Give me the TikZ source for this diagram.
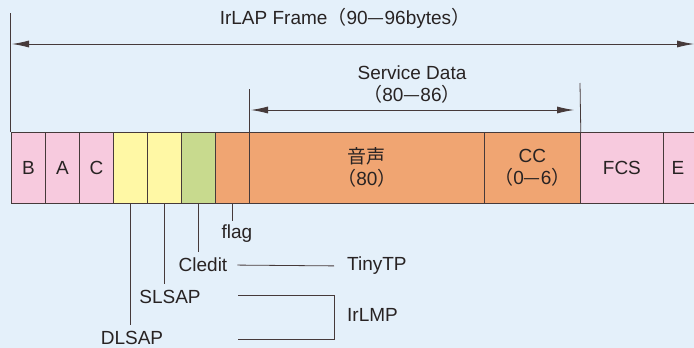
\documentclass[tikz,border=0pt]{standalone}
\usepackage{fontspec}
\setmainfont{Liberation Sans}
\newfontfamily\cjk{Noto Sans CJK JP}
\usetikzlibrary{arrows.meta}
\definecolor{bgc}{RGB}{228,240,250}
\definecolor{pinkc}{RGB}{247,202,222}
\definecolor{yelc}{RGB}{255,248,165}
\definecolor{grnc}{RGB}{200,218,142}
\definecolor{orgc}{RGB}{240,165,114}
\definecolor{linec}{RGB}{70,58,58}
\definecolor{textc}{RGB}{40,35,35}
\begin{document}
\begin{tikzpicture}[x=1pt,y=-1pt,
  txt/.style={font=\fontsize{19}{22}\selectfont, text=textc},
  cell/.style={txt, draw=linec, line width=0.8pt, anchor=north west,
    minimum height=71pt, inner sep=0pt, align=center},
  lbl/.style={txt, inner sep=1pt},
  conn/.style={draw=linec, line width=0.8pt},
  dimarrow/.style={conn, {Latex[length=17pt,width=7pt]}-{Latex[length=17pt,width=7pt]}}]
\fill[bgc] (0,0) rectangle (694,348);
\useasboundingbox (0,0) rectangle (694,348);
% cells
\node[cell, fill=pinkc, minimum width=34pt] (b) at (11,132) {\raisebox{-3pt}{B}};
\node[cell, fill=pinkc, minimum width=34pt] (a) at (45,132) {\raisebox{-3pt}{A}};
\node[cell, fill=pinkc, minimum width=34pt] (c) at (79,132) {\raisebox{-3pt}{C}};
\node[cell, fill=yelc, minimum width=34pt] (y1) at (113,132) {};
\node[cell, fill=yelc, minimum width=34pt] (y2) at (147,132) {};
\node[cell, fill=grnc, minimum width=34pt] (g) at (181,132) {};
\node[cell, fill=orgc, minimum width=34pt] (fl) at (215,132) {};
\node[cell, fill=orgc, minimum width=235pt] (voice) at (249,132) {{\cjk 音声}\\{\cjk （}80{\cjk ）}};
\node[cell, fill=orgc, minimum width=96pt] (cc) at (484,132) {CC\\{\cjk （}0{\cjk —}6{\cjk ）}};
\node[cell, fill=pinkc, minimum width=83pt] (fcs) at (580,132) {FCS};
\node[cell, fill=pinkc, minimum width=45pt] (e) at (663,132) {};
\node[lbl] (etxt) at (678,167.5) {E};
% IrLAP frame dimension
\coordinate (ltop) at (10,13);
\coordinate (aL) at (12,44);
\coordinate (aR) at (694,44);
\draw[conn] (ltop) -- (ltop |- b.north);
\draw[dimarrow] (aL) -- (aR);
\node[lbl] (irlap) at (345,18) {IrLAP Frame{\cjk （}90{\cjk —}96bytes{\cjk ）}};
% Service data dimension
\coordinate (sdtopL) at (249,89);
\coordinate (sdtopR) at (580,83);
\draw[conn] (sdtopL) -- (voice.north west);
\draw[conn] (sdtopR) -- (cc.north east);
\coordinate (sL) at (251,110);
\coordinate (sR) at (574,110);
\draw[dimarrow] (sL) -- (sR);
\node[lbl] (sd) at (412,73) {Service Data};
\node[lbl] (sdn) at (412,94) {{\cjk （}80{\cjk —}86{\cjk ）}};
% field labels below
\node[lbl] (flag) at (237,234) {flag};
\node[lbl] (cledit) at (203,265) {Cledit};
\node[lbl] (slsap) at (170,297) {SLSAP};
\node[lbl] (dlsap) at (132,338) {DLSAP};
\path (fl.south) ++(0,17) coordinate (flend);
\path (g.south) ++(0,48) coordinate (gend);
\path (y2.south) ++(0,80) coordinate (y2end);
\path (y1.south) ++(0,121) coordinate (y1end);
\draw[conn] (fl.south) -- (flend);
\draw[conn] (g.south) -- (gend);
\draw[conn] (y2.south) -- (y2end);
\draw[conn] (y1.south) -- (y1end);
% layers
\node[lbl, anchor=west] (tiny) at (346,266) {TinyTP};
\node[lbl, anchor=west] (irlmp) at (346,315) {IrLMP};
\draw[conn, shorten <=9pt, shorten >=12pt] (cledit.east) -- (tiny.west);
\coordinate (m1) at (238,295);
\coordinate (m2) at (334,295);
\coordinate (m3) at (334,339);
\coordinate (m4) at (238,339);
\draw[conn] (m1) -- (m2) -- (m3) -- (m4);
\end{tikzpicture}
\end{document}
